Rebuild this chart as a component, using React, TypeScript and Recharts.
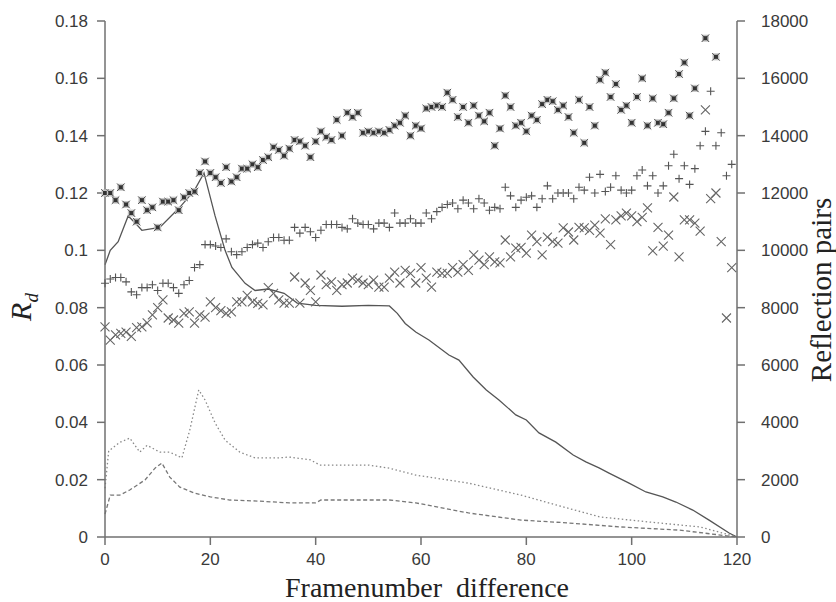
import React from "react";
import { ComposedChart, Line, Scatter, XAxis, YAxis, Label } from "recharts";

// Frame number differences for the scatter series
const frames: number[] = Array.from({ length: 120 }, (_, i) => i);

// R_d values, asterisk (boxed star) series
const starVals: (number | null)[] = [
  0.120, 0.120, 0.1175, 0.122, 0.116, 0.113, 0.110, 0.1175, 0.114, 0.115,
  0.108, 0.117, 0.117, 0.1175, 0.114, 0.1185, 0.120, 0.1205, 0.127, 0.131,
  0.127, 0.1255, 0.1235, 0.129, 0.124, 0.1255, 0.1285, 0.1285, 0.130, 0.129,
  0.1315, 0.1325, 0.136, 0.135, 0.133, 0.1355, 0.1385, 0.138, 0.1365, 0.1325,
  0.138, 0.1415, 0.1395, 0.1385, 0.1455, 0.140, 0.148, 0.1465, 0.148, 0.141,
  0.1415, 0.141, 0.1415, 0.141, 0.142, 0.1435, 0.1445, 0.147, 0.140, 0.1435,
  0.1425, 0.1495, 0.150, 0.1505, 0.150, 0.155, 0.1525, 0.1465, 0.150, 0.1445,
  0.1505, 0.147, 0.145, 0.148, 0.1365, 0.1425, 0.154, 0.150, 0.1435, 0.1445,
  0.1415, 0.147, 0.1455, 0.151, 0.1525, 0.152, 0.149, 0.1505, 0.1465, 0.141,
  0.1525, 0.1375, 0.150, 0.1435, 0.1595, 0.162, 0.1535, 0.158, 0.149, 0.1505,
  0.1445, 0.1535, 0.160, 0.1435, 0.153, 0.1445, 0.144, 0.148, 0.153, 0.1615,
  0.1655, 0.147, 0.1565, null, 0.174, null, 0.1675, null, null, null,
];

// R_d values, plus series
const plusVals: (number | null)[] = [
  0.0885, 0.090, 0.0905, 0.0905, 0.089, 0.0855, 0.0845, 0.087, 0.087, 0.088,
  0.086, 0.0885, 0.0885, 0.087, 0.085, 0.088, 0.0895, 0.094, 0.095, 0.102,
  0.102, 0.1015, 0.101, 0.104, 0.0995, 0.0985, 0.0995, 0.101, 0.102, 0.1025,
  0.101, 0.103, 0.1045, 0.1045, 0.1035, 0.1035, 0.108, 0.106, 0.108, 0.1065,
  0.1045, 0.107, 0.109, 0.109, 0.109, 0.108, 0.1075, 0.111, 0.1095, 0.109,
  0.109, 0.1075, 0.1095, 0.1095, 0.108, 0.113, 0.1095, 0.1095, 0.111, 0.1095,
  0.1095, 0.113, 0.111, 0.1135, 0.115, 0.116, 0.1165, 0.1145, 0.1175, 0.1165,
  0.1145, 0.118, 0.1165, 0.114, 0.115, 0.1145, 0.122, 0.119, 0.115, 0.1175,
  0.1185, 0.119, 0.115, 0.118, 0.1225, 0.118, 0.120, 0.120, 0.120, 0.118,
  0.122, 0.121, 0.1255, 0.120, 0.1265, 0.1205, 0.122, 0.126, 0.121, 0.120,
  0.121, 0.126, 0.128, 0.1225, 0.126, 0.120, 0.1225, 0.1295, 0.1335, 0.125,
  0.1295, 0.123, 0.1285, 0.1365, 0.1415, 0.1555, 0.1365, 0.141, 0.126, 0.130,
];

// R_d values, cross series
const crossVals: (number | null)[] = [
  0.0733, 0.0687, 0.0705, 0.071, 0.0715, 0.070, 0.073, 0.0733, 0.0747, 0.0775,
  0.080, 0.0827, 0.0764, 0.0757, 0.0746, 0.078, 0.0785, 0.0746, 0.0775, 0.0767,
  0.082, 0.080, 0.079, 0.078, 0.0785, 0.082, 0.082, 0.0843, 0.082, 0.0815,
  0.081, 0.087, 0.085, 0.0827, 0.0816, 0.0816, 0.0907, 0.0816, 0.0886, 0.086,
  0.082, 0.0914, 0.088, 0.089, 0.086, 0.088, 0.0886, 0.0903, 0.0896, 0.0886,
  0.088, 0.0896, 0.0872, 0.0872, 0.0903, 0.0924, 0.0886, 0.093, 0.092, 0.0886,
  0.094, 0.0903, 0.0872, 0.0924, 0.092, 0.092, 0.094, 0.0924, 0.095, 0.093,
  0.0984, 0.0966, 0.095, 0.0977, 0.096, 0.0956, 0.1036, 0.0977, 0.1008, 0.101,
  0.099, 0.1053, 0.103, 0.0984, 0.1046, 0.103, 0.1025, 0.1078, 0.1064, 0.1036,
  0.108, 0.1078, 0.107, 0.1088, 0.106, 0.111, 0.102, 0.1106, 0.112, 0.113,
  0.112, 0.110, 0.1115, 0.1148, 0.0998, 0.108, 0.1015, 0.1053, 0.1186, 0.0977,
  0.1106, 0.1106, 0.1095, 0.1067, 0.149, 0.118, 0.120, 0.103, 0.0764, 0.094,
];

// Reflection pairs, solid line
const solidX: number[] = [0, 1, 2.5, 4.4, 5.5, 7, 10.4, 14.2, 17, 18.8, 20.9, 22.8, 24.1, 26.6, 28.5, 31, 34, 36.5, 40, 45, 50, 54, 55.5, 57, 59, 61.5, 65.3, 67.2, 69.9, 72.4, 74.8, 78, 80, 82.4, 85.6, 88.9, 91.3, 93.8, 95.7, 99.5, 102.7, 105.9, 108.4, 111.6, 114.7, 118.5, 120];
const solidY: number[] = [9500, 10000, 10300, 11200, 11000, 10700, 10800, 11500, 12100, 12700, 11200, 10000, 9400, 8850, 8600, 8650, 8500, 8160, 8080, 8050, 8080, 8060, 7800, 7450, 7150, 6870, 6350, 6170, 5580, 5130, 4780, 4260, 4080, 3630, 3310, 2860, 2620, 2410, 2230, 1880, 1570, 1400, 1220, 940, 590, 140, 0];

// Reflection pairs, dotted line
const dottedX: number[] = [0, 0.7, 2.8, 4.7, 6.6, 8, 10.4, 12.3, 14.6, 16.1, 17.8, 19, 20.9, 22.8, 25.6, 28.5, 33, 35, 39, 40.8, 46.5, 50, 54, 59, 69, 79, 85.6, 94, 103.5, 113, 120];
const dottedY: number[] = [1700, 3000, 3300, 3450, 2960, 3200, 2960, 2960, 2760, 3730, 5130, 4780, 3980, 3380, 2960, 2760, 2760, 2790, 2690, 2510, 2510, 2510, 2400, 2160, 1880, 1460, 1120, 700, 520, 350, 0];

// Reflection pairs, dashed line
const dashedX: number[] = [0, 1, 2.8, 4.7, 7.6, 9.5, 10.8, 12.3, 14.2, 17, 20, 23.7, 29.4, 35, 40, 41, 54, 59, 69, 79, 88, 98, 109, 120];
const dashedY: number[] = [800, 1460, 1460, 1640, 1990, 2400, 2580, 2090, 1740, 1530, 1400, 1290, 1250, 1190, 1190, 1290, 1290, 1190, 840, 590, 490, 350, 240, 0];

// Tick labels
const xTicks: number[] = [0, 20, 40, 60, 80, 100, 120];
const leftTicks: number[] = [0, 0.02, 0.04, 0.06, 0.08, 0.1, 0.12, 0.14, 0.16, 0.18];
const rightTicks: number[] = [0, 2000, 4000, 6000, 8000, 10000, 12000, 14000, 16000, 18000];

const toPoints = (vals: (number | null)[]) =>
  frames
    .map((f, i) => ({ f, v: vals[i] }))
    .filter((p) => p.v !== null && p.v !== undefined);
const toLine = (xs: number[], ys: number[]) => xs.map((f, i) => ({ f, r: ys[i] }));

const starPts = toPoints(starVals);
const plusPts = toPoints(plusVals);
const crossPts = toPoints(crossVals);
const solidPts = toLine(solidX, solidY);
const dottedPts = toLine(dottedX, dottedY);
const dashedPts = toLine(dashedX, dashedY);

const AXIS = "#707070";
const TICK_FONT = { fontFamily: "'Liberation Sans', Arial, sans-serif", fontSize: 17, fill: "#3a3a3a" };
const SERIF = "'Liberation Serif', 'Times New Roman', serif";

const StarShape = (p: any) => {
  const { cx, cy } = p;
  if (cx == null || cy == null) return <g />;
  return (
    <g>
      <rect x={cx - 3.5} y={cy - 3.5} width={7} height={7} fill="#c4c4c4" />
      <path d={`M${cx - 3.8},${cy - 3.8}L${cx + 3.8},${cy + 3.8}M${cx - 3.8},${cy + 3.8}L${cx + 3.8},${cy - 3.8}`} stroke="#555" strokeWidth={1} />
      <rect x={cx - 2} y={cy - 2} width={4} height={4} fill="#333" />
    </g>
  );
};

const PlusShape = (p: any) => {
  const { cx, cy } = p;
  if (cx == null || cy == null) return <g />;
  return <path d={`M${cx - 4},${cy}H${cx + 4}M${cx},${cy - 4}V${cy + 4}`} stroke="#555" strokeWidth={1.1} fill="none" />;
};

const CrossShape = (p: any) => {
  const { cx, cy } = p;
  if (cx == null || cy == null) return <g />;
  return <path d={`M${cx - 4.5},${cy - 4.5}L${cx + 4.5},${cy + 4.5}M${cx - 4.5},${cy + 4.5}L${cx + 4.5},${cy - 4.5}`} stroke="#666" strokeWidth={1.1} fill="none" />;
};

export default function App() {
  return (
    <div style={{ position: "absolute", left: 0, top: 0, width: 836, height: 602, background: "#fff" }}>
      <ComposedChart width={836} height={602} margin={{ top: 21, right: 0, bottom: 0, left: 0 }}>
        <XAxis
          xAxisId="top"
          orientation="top"
          type="number"
          dataKey="f"
          domain={[0, 120]}
          height={0}
          tick={false}
          tickLine={false}
          axisLine={{ stroke: AXIS, strokeWidth: 1.5 }}
        />
        <XAxis
          type="number"
          dataKey="f"
          domain={[0, 120]}
          ticks={xTicks}
          height={65}
          tickSize={8}
          tickMargin={8}
          tick={TICK_FONT}
          tickLine={{ stroke: AXIS, strokeWidth: 1.5 }}
          axisLine={{ stroke: AXIS, strokeWidth: 1.5 }}
        >
          <Label
            content={(props: any) => {
              const vb = props.viewBox || { x: 105, width: 632, y: 537 };
              return (
                <text x={vb.x + vb.width / 2 + 6} y={597} textAnchor="middle" fontFamily={SERIF} fontSize={28} fill="#222" style={{ whiteSpace: "pre" }}>
                  {"Framenumber  difference"}
                </text>
              );
            }}
          />
        </XAxis>
        <YAxis
          yAxisId="left"
          type="number"
          domain={[0, 0.18]}
          ticks={leftTicks}
          width={105}
          tickSize={8}
          tickMargin={9}
          tick={TICK_FONT}
          tickLine={{ stroke: AXIS, strokeWidth: 1.5 }}
          axisLine={{ stroke: AXIS, strokeWidth: 1.5 }}
          tickFormatter={(v: number) => String(v)}
        >
          <Label
            content={() => (
              <text transform="translate(31,307) rotate(-90)" textAnchor="middle" fontFamily={SERIF} fontSize={30} fontStyle="italic" fill="#222">
                R
                <tspan fontSize={19} dy={7}>d</tspan>
              </text>
            )}
          />
        </YAxis>
        <YAxis
          yAxisId="right"
          orientation="right"
          type="number"
          domain={[0, 18000]}
          ticks={rightTicks}
          width={99}
          tickSize={8}
          tickMargin={16}
          tick={TICK_FONT}
          tickLine={{ stroke: AXIS, strokeWidth: 1.5 }}
          axisLine={{ stroke: AXIS, strokeWidth: 1.5 }}
        >
          <Label
            content={() => (
              <text transform="translate(831,290) rotate(-90)" textAnchor="middle" fontFamily={SERIF} fontSize={29} fill="#222">
                Reflection pairs
              </text>
            )}
          />
        </YAxis>

        <Line yAxisId="right" data={solidPts} dataKey="r" type="linear" stroke="#555" strokeWidth={1.3} dot={false} isAnimationActive={false} />
        <Line yAxisId="right" data={dottedPts} dataKey="r" type="linear" stroke="#888" strokeWidth={1.3} strokeDasharray="1.5 2.5" dot={false} isAnimationActive={false} />
        <Line yAxisId="right" data={dashedPts} dataKey="r" type="linear" stroke="#777" strokeWidth={1.3} strokeDasharray="4 2.5" dot={false} isAnimationActive={false} />

        <Scatter yAxisId="left" data={crossPts} dataKey="v" shape={CrossShape} isAnimationActive={false} />
        <Scatter yAxisId="left" data={plusPts} dataKey="v" shape={PlusShape} isAnimationActive={false} />
        <Scatter yAxisId="left" data={starPts} dataKey="v" shape={StarShape} isAnimationActive={false} />
      </ComposedChart>
    </div>
  );
}
